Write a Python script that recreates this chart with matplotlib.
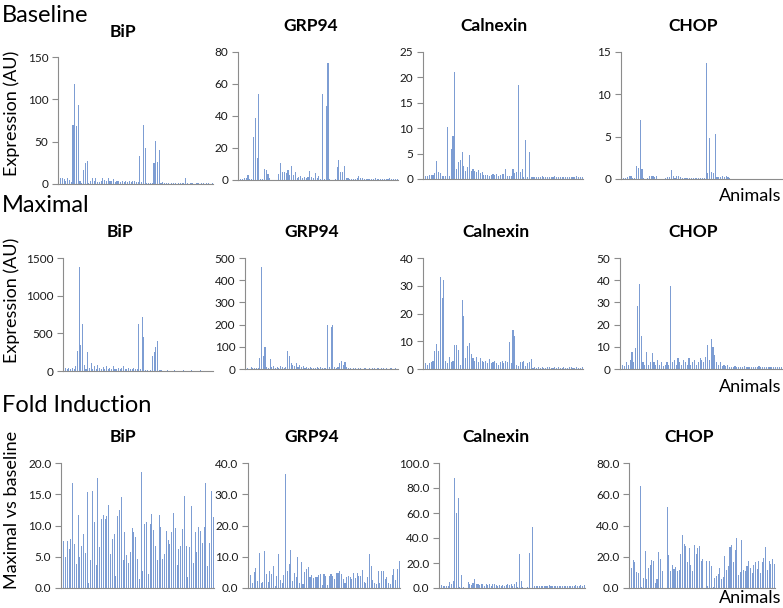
import matplotlib
matplotlib.use("Agg")
import matplotlib.pyplot as plt

plt.rcParams['font.family'] = ['Lato', 'DejaVu Sans']

# ---------------- data ----------------
genes = ["BiP", "GRP94", "Calnexin", "CHOP"]

bip_base = [6, 7, 7, 6, 4, 7, 5, 2, 70, 118, 68, 93, 3, 1, 16, 25, 27, 1, 4, 7, 4, 7, 2, 2, 3, 7, 5, 4, 7, 3,
            4, 6, 2, 4, 3, 2, 3, 2, 3, 2, 3, 2, 3, 4, 2, 2, 33, 2, 70, 43, 1, 1, 1, 1, 25, 51, 26, 40, 1, 2,
            1, 1, 1, 0.5, 1, 1, 1, 0.5, 1, 1, 1, 1, 7, 1, 0.5, 1, 1, 0.5, 1, 1, 0.5, 1, 1, 0.5, 1, 1, 0.5, 1]
grp_base = [0.5, 0.5, 0.8, 1.5, 1, 3, 0.5, 0.5, 27, 39, 14, 54, 0.5, 0.5, 7, 6, 3.5, 1, 0.3, 0.2, 0.2, 0.3,
            4, 10.5, 5, 5, 4.5, 6, 3, 8.5, 3, 5, 1, 2, 2.5, 1.5, 2, 1.5, 2, 5.5, 2, 1.5, 4.5, 1.5, 2.5, 0.5,
            54, 0.5, 46, 73, 0.5, 0.3, 0.3, 0.5, 8, 12.5, 5, 5, 9, 1.5, 1, 0.8, 0.5, 0.8, 0.5, 1, 2.5, 1.5, 1,
            0.5, 0.8, 0.5, 0.5, 0.8, 0.5, 1.5, 0.5, 0.8, 0.5, 0.5, 0.8, 0.5, 0.5, 1.5, 0.8, 0.5, 0.5, 0.8]
cal_base = [0.5, 0.6, 0.6, 0.7, 0.8, 0.8, 1.2, 3.5, 1.3, 1.2, 0.5, 0.5, 0.5, 10.3, 0.5, 6.0, 8.5, 21.0, 2.0,
            3.3, 3.8, 5.4, 2.5, 1.5, 2.3, 4.7, 1.5, 2.0, 1.5, 1.3, 1.7, 1.2, 1.4, 0.8, 0.8, 0.8, 0.5, 0.8,
            1.0, 0.7, 1.0, 0.6, 0.8, 1.0, 1.0, 2.0, 0.5, 0.5, 0.5, 2.0, 1.2, 1.3, 18.6, 1.3, 2.0, 0.3, 7.6,
            0.3, 5.3, 0.3, 0.4, 0.3, 0.3, 0.4, 0.3, 0.5, 0.4, 0.3, 0.3, 0.4, 0.3, 0.3, 0.5, 0.3, 0.3, 0.4,
            0.3, 0.3, 0.3, 0.4, 0.3, 0.3, 0.3, 0.4, 0.5, 0.4, 0.3, 0.3]
chop_base = [0.1, 0.1, 0.1, 0.2, 0.3, 0.3, 0.1, 0.1, 1.5, 1.3, 7.0, 1.2, 0.1, 0.05, 0.1, 0.4, 0.4, 0.4, 0.2,
             0.4, 0, 0, 0, 0, 0.1, 0.2, 0.2, 1.1, 0.3, 0.1, 0.3, 0.3, 0.2, 0.1, 0.1, 0.1, 0.1, 0.1, 0.1,
             0.1, 0.1, 0.1, 0.1, 0.1, 0.1, 0.1, 13.7, 0.7, 4.8, 0.8, 0.7, 5.3, 0.2, 0.2, 0.2, 0.3, 0.2, 0.3,
             0.2, 0.1, 0.05, 0.05, 0.05, 0.05, 0.05, 0.05, 0.05, 0.05, 0.05, 0.05, 0.05, 0.05, 0.05, 0.05,
             0.05, 0.05, 0.05, 0.05, 0.05, 0.05, 0.05, 0.05, 0.05, 0.05, 0.05, 0.05, 0.05, 0.05]

bip_max = [50, 40, 30, 45, 25, 35, 20, 60, 270, 1380, 350, 620, 80, 30, 250, 40, 100, 30,
           60, 20, 80, 40, 30, 50, 20, 70, 30, 40, 25, 60, 20, 30, 45, 20, 35, 60, 25, 20, 40, 30, 20, 35, 25, 20,
           630, 20, 720, 450, 10, 10, 5, 10, 200, 250, 320, 400, 10,
           8, 5, 6, 5, 10, 5, 6, 5, 8, 5, 6, 5, 5, 8, 5, 6, 5, 5, 10, 5, 6, 5, 5, 8, 5, 6, 5, 5, 6, 5, 5]
grp_max = [3, 5, 2, 8, 4, 3, 6, 5, 50, 460, 60, 100, 10, 5, 45, 8, 12, 5, 10, 6, 15, 8, 4, 10, 80, 60, 25,
           20, 15, 25, 10, 18, 8, 12, 6, 10, 5, 8, 4, 6, 3, 10, 5, 8, 4, 6, 5,
           200, 10, 190, 200, 8, 5, 10, 25, 35, 20, 30, 8,
           3, 5, 2, 4, 3, 2, 5, 3, 2, 4, 3, 2, 3, 2, 5, 3, 2, 3, 2, 4, 3, 2, 3, 2, 3, 4, 2, 3, 2]
cal_max = [1.5, 2, 1.5, 2, 2.5, 3, 6.5, 9, 6.5, 33.3, 25.5, 32, 3, 2, 4.5, 2.5, 3, 8.5, 8.5, 7, 1.5, 25, 19,
           4, 8.3, 9.3, 5.3, 4, 3, 4.5, 2.5, 4, 3,
           2.5, 3, 2, 3.5, 2, 2.5, 3, 2, 1.5, 2.5, 3, 2, 3, 2.5,
           9.7, 2, 14, 12, 1.5, 1, 2.5, 2.5, 3, 1, 2, 2.5, 3.5,
           0.5, 0.6, 0.5, 0.7, 0.5, 0.6, 0.5, 0.5, 0.7, 0.6, 0.5, 0.5, 0.6, 0.5, 0.7, 0.5, 0.5, 0.6, 0.5, 0.5,
           0.6, 0.7, 0.5, 0.5, 0.6, 0.5, 0.5, 0.6]
chop_max = [1, 2, 1.5, 3, 2, 4, 7.5, 3, 9.5, 28.5, 38.5, 15, 3, 2, 7.5, 2, 3, 7, 3, 2, 4, 2, 3, 1.5, 2, 3, 2,
            37.5, 3, 4, 2, 5, 3, 2, 4, 3, 2, 5, 2, 3, 4, 2, 3, 5, 4, 3,
            5.5, 11, 4, 13.5, 10, 6.5, 3, 2, 3, 1.5, 2, 1.5, 2,
            1, 0.8, 1, 1.2, 0.8, 1, 0.7, 1, 1.5, 0.8, 1, 1, 0.7, 1, 0.8, 1, 1.2, 0.8, 1, 0.7, 1, 0.8, 1, 1,
            0.7, 1, 0.8, 1, 0.8]

bip_fold = [10.8, 7.5, 5, 7.5, 6.2, 7.8, 16.8, 7, 3.8, 11.7, 5, 6.7, 8.7, 5.6, 15.3, 0.8, 4.5, 15.6, 10.5,
            3.7, 17.6, 6.6, 11.1, 11.7, 11.1, 11.5, 13.3, 5.5, 7.8, 8.6, 2, 11.5, 12.5, 14.5, 4.5, 9, 5.3, 4,
            5.8, 9.6, 8.9, 8.2, 4.6, 1.4, 18.5, 2.8, 10.3, 10.5, 2.3, 10.3, 11.8, 9.3, 6.8, 4.5, 11.7, 9.8,
            4.7, 5.4, 9.2, 7.7, 7, 9, 12, 9.6, 3.7, 6.2, 6.8, 9.4, 14.8, 6.8, 1.8, 6.5, 13.1, 4, 8.9,
            5.8, 9.8, 9.1, 7.2, 9.8, 16.8, 3.5, 7.2, 15.5, 11.3]
grp_fold = [7.2, 4.2, 1.5, 5.2, 6.5, 2.3, 11.3, 1.7, 2, 11.7, 4.5, 2, 5.5, 4.5, 7, 0.5, 4, 11, 2.5, 1.5, 4.3,
            36.5, 5.5, 7.8, 12.3, 2.3, 4.8, 3.5, 10, 1.5, 8.3, 1.2, 5.2, 6, 6.7, 3.5, 4.2, 3.3, 3.6, 3.6, 4.2,
            4.5, 1, 4.5, 3.7, 1, 4, 4.5, 4, 2.8, 4.7, 4.7, 5.3, 4.5, 3, 1.5, 3.5, 4, 3.4, 3, 4.7, 3.3, 4.7,
            4, 4, 5.8, 2, 1.5, 3.5, 11, 7, 2.5, 1.5, 1.2, 5.5, 1.5, 5.5, 5.3, 2.8, 3.5, 1.5, 1.3, 4.3, 6,
            2.5, 6, 8.5]
cal_fold = [2.5, 2.5, 2, 2, 1.5, 1.5, 5, 3, 5.5, 88, 60, 72, 0.5, 10.5, 0.5, 0.3, 0.3,
            4.5, 3, 2.5, 4, 7, 3.5, 3.5, 2.5, 3.5, 3, 2, 3.5, 2.5, 3, 1.5, 3.5, 3, 2.5, 2, 2.5, 2, 2.5, 2,
            2.5, 3, 2.5, 3, 1.5, 3, 5, 0.5, 27.5, 5.5, 0.5, 0.3, 0.3, 0.5, 28, 0.3, 48.5, 1.5, 1.8,
            2, 1.5, 2, 2, 1.5, 2, 1.5, 2.5, 2, 1.5, 1.5, 2, 1.5, 1.5, 1.5, 2, 2, 1.5, 2, 2, 2, 1.5, 1.5,
            2.5, 2, 2, 2.5, 2, 2.5]
chop_fold = [23, 12.5, 18, 16.5, 10.5, 9.5, 65, 0.5, 6.5, 23.5, 5.5, 13, 14.5, 18, 17, 3.5, 6, 23, 18.5, 11,
             0.3, 0.3, 52, 21, 11, 14.5, 12, 13.5, 11, 11.5, 21.5, 34, 28, 27, 16.5, 25.5, 14.5, 11, 27.5,
             22, 25.5, 27, 17, 18.5, 0.3, 17, 1, 17, 14, 0.5, 6.5, 8, 9, 12.5, 6, 7, 20.5, 11.5, 14, 26,
             27.5, 16.5, 24.5, 32, 8.5, 10.5, 30.5, 11.5, 11, 14, 17, 13, 9.5, 15, 16.5, 12, 17.5, 9.5,
             16.5, 19.5, 26, 11.5, 17, 15.5, 18.5, 15.5]

baseline = [bip_base, grp_base, cal_base, chop_base]
maximal = [bip_max, grp_max, cal_max, chop_max]
fold = [bip_fold, grp_fold, cal_fold, chop_fold]

# ---------------- layout (pixels) ----------------
W, H = 783, 608
BAR = '#7d9dd3'
AX = '#8c8c8c'
TXT = '#1a1a1a'

fig = plt.figure(figsize=(W / 100, H / 100), dpi=100)


def panel(rect, values, ymax, step, fmt, title, title_xy):
    l, t, r, b = rect
    ax = fig.add_axes([l / W, 1 - b / H, (r - l) / W, (b - t) / H])
    n = len(values)
    ax.bar(range(n), values, width=0.62, color=BAR, linewidth=0)
    ax.set_xlim(-0.5, n - 0.5)
    ax.set_ylim(0, ymax)
    ticks = [i * step for i in range(int(round(ymax / step)) + 1)]
    ax.set_yticks(ticks)
    ax.set_yticklabels([fmt.format(v) for v in ticks])
    ax.set_xticks([])
    for s in ['top', 'right']:
        ax.spines[s].set_visible(False)
    for s in ['left', 'bottom']:
        ax.spines[s].set_color(AX)
        ax.spines[s].set_linewidth(0.8)
    ax.tick_params(axis='y', length=4, width=0.8, color=AX, labelsize=8.5,
                   labelcolor=TXT, pad=3)
    ax.patch.set_alpha(0)
    fig.text(title_xy[0] / W, 1 - title_xy[1] / H, title, ha='center', va='center',
             fontsize=12.5, fontweight='bold', color='black')
    return ax


# row 1: baseline
rects1 = [(58, 57, 213, 184), (238, 52, 398, 180), (423, 52, 583, 179), (621, 52, 782, 179)]
ymax1 = [150, 80, 25, 15]
step1 = [50, 20, 5, 5]
titles1 = [(123, 32), (311, 26), (494, 26), (693, 26)]
for i in range(4):
    panel(rects1[i], baseline[i], ymax1[i], step1[i], '{:g}', genes[i], titles1[i])

# row 2: maximal
rects2 = [(63, 258, 213, 371), (245, 258, 398, 369), (423, 258, 583, 369), (620, 258, 782, 369)]
ymax2 = [1500, 500, 40, 50]
step2 = [500, 100, 10, 10]
titles2 = [(120, 232), (312, 232), (496, 232), (693, 232)]
for i in range(4):
    panel(rects2[i], maximal[i], ymax2[i], step2[i], '{:g}', genes[i], titles2[i])

# row 3: fold induction
rects3 = [(61, 463, 214, 588), (248, 463, 400, 588), (439, 463, 585, 588), (629, 463, 775, 588)]
ymax3 = [20, 40, 100, 80]
step3 = [5, 10, 20, 20]
titles3 = [(123, 437), (312, 437), (496, 437), (689, 437)]
for i in range(4):
    panel(rects3[i], fold[i], ymax3[i], step3[i], '{:.1f}', genes[i], titles3[i])

# section titles and labels
def ftxt(x, y, s, **kw):
    fig.text(x / W, 1 - y / H, s, color='black', **kw)

ftxt(2, 15, "Baseline", fontsize=17, ha='left', va='center')
ftxt(2, 205, "Maximal", fontsize=17, ha='left', va='center')
ftxt(2, 405, "Fold Induction", fontsize=17, ha='left', va='center')

ftxt(12, 113, "Expression (AU)", fontsize=13, rotation=90, ha='center', va='center')
ftxt(12, 300, "Expression (AU)", fontsize=13, rotation=90, ha='center', va='center')
ftxt(12, 510, "Maximal vs baseline", fontsize=13, rotation=90, ha='center', va='center')

ftxt(781, 196, "Animals", fontsize=13, ha='right', va='center')
ftxt(781, 387, "Animals", fontsize=13, ha='right', va='center')
ftxt(781, 598, "Animals", fontsize=13, ha='right', va='center')

fig.savefig("out.png", dpi=100)
